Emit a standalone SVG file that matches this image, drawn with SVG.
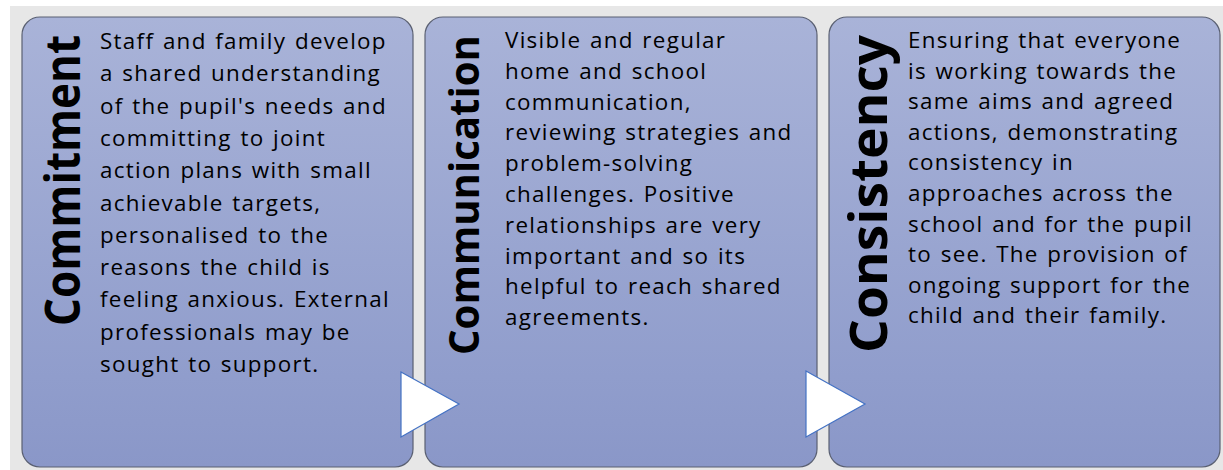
<svg xmlns="http://www.w3.org/2000/svg" width="1223" height="470" viewBox="0 0 1223 470">
  <defs>
    <linearGradient id="boxFill" x1="0" y1="0" x2="0" y2="1">
      <stop offset="0" stop-color="#A9B3D8"/>
      <stop offset="0.8" stop-color="#909DCC"/>
      <stop offset="1" stop-color="#8A97C8"/>
    </linearGradient>
    <style>
      .box { fill: url(#boxFill); stroke: #5A6072; stroke-width: 1.2; }
      .title { font-family: "Open Sans", "Liberation Sans", sans-serif; font-weight: 700; fill: #000; text-anchor: middle; }
      .body { font-family: "Open Sans", "Liberation Sans", sans-serif; font-size: 22.4px; letter-spacing: 1.3px; word-spacing: 1.5px; fill: #000; }
      .step { fill: #FFFFFF; stroke: #4472C4; stroke-width: 1.2; stroke-linejoin: miter; }
    </style>
  </defs>

  <!-- page background -->
  <rect x="0" y="0" width="1223" height="470" fill="#FFFFFF"/>
  <rect x="10" y="6" width="1213" height="464" fill="#E7E7E7"/>

  <!-- stage 1 -->
  <g id="node-commitment">
    <rect class="box" x="22" y="17" width="391" height="450" rx="18" ry="18"/>
    <text class="title" font-size="49" textLength="291" lengthAdjust="spacingAndGlyphs" transform="translate(80,180.5) rotate(-90)">Commitment</text>
    <text class="body">
      <tspan x="100" y="49">Staff and family develop</tspan>
      <tspan x="100" y="81.3">a shared understanding</tspan>
      <tspan x="100" y="113.6">of the pupil's needs and</tspan>
      <tspan x="100" y="145.9">committing to joint</tspan>
      <tspan x="100" y="178.2">action plans with small</tspan>
      <tspan x="100" y="210.5">achievable targets,</tspan>
      <tspan x="100" y="242.8">personalised to the</tspan>
      <tspan x="100" y="275.1">reasons the child is</tspan>
      <tspan x="100" y="307.4">feeling anxious. External</tspan>
      <tspan x="100" y="339.7">professionals may be</tspan>
      <tspan x="100" y="372">sought to support.</tspan>
    </text>
  </g>

  <!-- stage 2 -->
  <g id="node-communication">
    <rect class="box" x="425" y="17" width="392" height="450" rx="18" ry="18"/>
    <text class="title" font-size="42" textLength="320" lengthAdjust="spacingAndGlyphs" transform="translate(479,195) rotate(-90)">Communication</text>
    <text class="body">
      <tspan x="505" y="48">Visible and regular</tspan>
      <tspan x="505" y="78.8">home and school</tspan>
      <tspan x="505" y="109.6">communication,</tspan>
      <tspan x="505" y="140.4">reviewing strategies and</tspan>
      <tspan x="505" y="171.2">problem-solving</tspan>
      <tspan x="505" y="202">challenges. Positive</tspan>
      <tspan x="505" y="232.8">relationships are very</tspan>
      <tspan x="505" y="263.6">important and so its</tspan>
      <tspan x="505" y="294.4">helpful to reach shared</tspan>
      <tspan x="505" y="325.2">agreements.</tspan>
    </text>
  </g>

  <!-- stage 3 -->
  <g id="node-consistency">
    <rect class="box" x="829" y="17" width="391" height="450" rx="18" ry="18"/>
    <text class="title" font-size="52" textLength="318" lengthAdjust="spacingAndGlyphs" transform="translate(887,194) rotate(-90)">Consistency</text>
    <text class="body">
      <tspan x="908" y="48">Ensuring that everyone</tspan>
      <tspan x="908" y="78.6">is working towards the</tspan>
      <tspan x="908" y="109.2">same aims and agreed</tspan>
      <tspan x="908" y="139.8">actions, demonstrating</tspan>
      <tspan x="908" y="170.4">consistency in</tspan>
      <tspan x="908" y="201">approaches across the</tspan>
      <tspan x="908" y="231.6">school and for the pupil</tspan>
      <tspan x="908" y="262.2">to see. The provision of</tspan>
      <tspan x="908" y="292.8">ongoing support for the</tspan>
      <tspan x="908" y="323.4">child and their family.</tspan>
    </text>
  </g>

  <!-- flow arrows between stages -->
  <g id="connectors">
    <polygon class="step" points="401,372 459,404 401,437"/>
    <polygon class="step" points="806,371 865,404 806,437"/>
  </g>
</svg>
